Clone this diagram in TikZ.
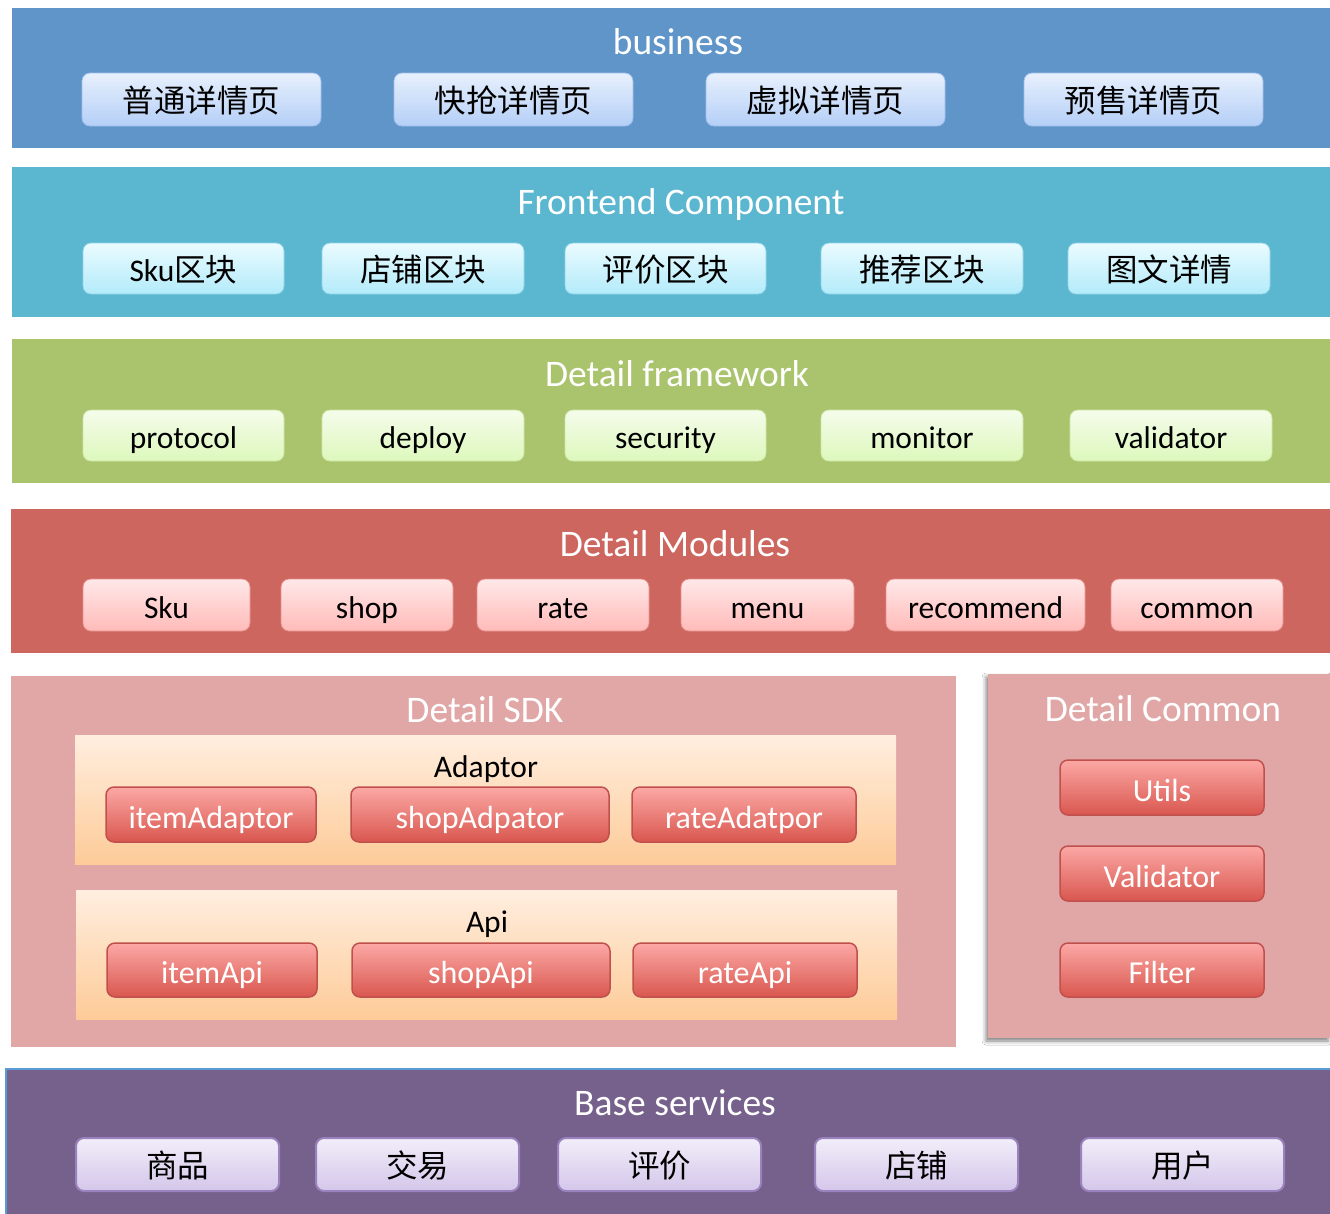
\documentclass[tikz,border=0pt]{standalone}
\usepackage{fontspec}
\setmainfont{Carlito}
\newfontfamily\cjk{Noto Sans CJK SC}
\usetikzlibrary{shadows.blur}
\definecolor{bizbg}{HTML}{5F95C8}
\definecolor{febg}{HTML}{5BB7D0}
\definecolor{fwbg}{HTML}{AAC36D}
\definecolor{modbg}{HTML}{CC665F}
\definecolor{sdkbg}{HTML}{E1A7A6}
\definecolor{basebg}{HTML}{76608C}
\definecolor{baseline}{HTML}{5B9BD5}
\definecolor{HTMLE8F0FD}{HTML}{E8F0FD}
\definecolor{HTMLB4CFF7}{HTML}{B4CFF7}
\definecolor{HTML9FBDEA}{HTML}{9FBDEA}
\definecolor{HTMLEAFBFF}{HTML}{EAFBFF}
\definecolor{HTMLB3EBFA}{HTML}{B3EBFA}
\definecolor{HTML8FD3E6}{HTML}{8FD3E6}
\definecolor{HTMLF5FCEB}{HTML}{F5FCEB}
\definecolor{HTMLDDF8BC}{HTML}{DDF8BC}
\definecolor{HTMLCDE6A6}{HTML}{CDE6A6}
\definecolor{HTMLFFE8E8}{HTML}{FFE8E8}
\definecolor{HTMLFFBBB9}{HTML}{FFBBB9}
\definecolor{HTMLE6908B}{HTML}{E6908B}
\definecolor{HTMLFCA8A5}{HTML}{FCA8A5}
\definecolor{HTMLD9574F}{HTML}{D9574F}
\definecolor{HTMLC0504D}{HTML}{C0504D}
\definecolor{HTMLF2EEF9}{HTML}{F2EEF9}
\definecolor{HTMLD4C6EA}{HTML}{D4C6EA}
\definecolor{HTML9A82BE}{HTML}{9A82BE}
\definecolor{HTMLFFEEDF}{HTML}{FFEEDF}
\definecolor{HTMLFDCB98}{HTML}{FDCB98}
\newcommand\placebox[7]{%
  \pgfmathsetmacro\pbW{#5-#3}\pgfmathsetmacro\pbH{#6-#4}%
  \pgfmathsetmacro\pbX{(#3+#5)/2}\pgfmathsetmacro\pbY{(#4+#6)/2}%
  \node[#2, minimum width=\pbW pt, minimum height=\pbH pt] (#1) at (\pbX,\pbY) {#7};}
\tikzset{
  layer/.style={rectangle, inner sep=0pt, outer sep=0pt},
  ttl/.style={anchor=base, text=white, font=\fontsize{37.5}{42}\selectfont, inner sep=0pt},
  sub/.style={anchor=base, text=black, font=\fontsize{31.5}{36}\selectfont, inner sep=0pt},
  item/.style={rectangle, rounded corners=8pt, inner sep=0pt, outer sep=0pt,
    text height=31pt, text depth=5pt, font=\fontsize{31.5}{36}\selectfont},
  bizitem/.style={item, top color=HTMLE8F0FD, bottom color=HTMLB4CFF7, draw=HTML9FBDEA, line width=0.8pt},
  feitem/.style={item, top color=HTMLEAFBFF, bottom color=HTMLB3EBFA, draw=HTML8FD3E6, line width=0.8pt},
  fwitem/.style={item, top color=HTMLF5FCEB, bottom color=HTMLDDF8BC, draw=HTMLCDE6A6, line width=0.8pt},
  moditem/.style={item, top color=HTMLFFE8E8, bottom color=HTMLFFBBB9, draw=HTMLE6908B, line width=0.8pt},
  reditem/.style={item, top color=HTMLFCA8A5, bottom color=HTMLD9574F, draw=HTMLC0504D, line width=1.5pt, text=white, text height=32pt, font=\fontsize{32}{36}\selectfont},
  baseitem/.style={item, top color=HTMLF2EEF9, bottom color=HTMLD4C6EA, draw=HTML9A82BE, line width=2pt},
  panel/.style={rectangle, inner sep=0pt, outer sep=0pt, top color=HTMLFFEEDF, bottom color=HTMLFDCB98},
}
\begin{document}
\begin{tikzpicture}[x=1pt, y=-1pt]
\useasboundingbox[fill=white] (0,0) rectangle (1330,1213);

% business
\placebox{biz}{layer, fill=bizbg}{12}{8}{1330}{148}{}
\node[ttl] (bizt) at (678,54) {business};
\placebox{b1}{bizitem}{82}{73}{321}{126}{\cjk 普通详情页}
\placebox{b2}{bizitem}{394}{73}{633}{126}{\cjk 快抢详情页}
\placebox{b3}{bizitem}{706}{73}{945}{126}{\cjk 虚拟详情页}
\placebox{b4}{bizitem}{1024}{73}{1263}{126}{\cjk 预售详情页}

% frontend
\placebox{fe}{layer, fill=febg}{12}{167}{1330}{317}{}
\node[ttl] (fet) at (681,214) {Frontend Component};
\placebox{f1}{feitem}{83}{243}{284}{294}{Sku{\cjk 区块}}
\placebox{f2}{feitem}{322}{243}{524}{294}{\cjk 店铺区块}
\placebox{f3}{feitem}{565}{243}{766}{294}{\cjk 评价区块}
\placebox{f4}{feitem}{821}{243}{1023}{294}{\cjk 推荐区块}
\placebox{f5}{feitem}{1068}{243}{1270}{294}{\cjk 图文详情}

% framework
\placebox{fw}{layer, fill=fwbg}{12}{339}{1330}{483}{}
\node[ttl] (fwt) at (677,386) {Detail framework};
\placebox{w1}{fwitem}{83}{410}{284}{461}{protocol}
\placebox{w2}{fwitem}{322}{410}{524}{461}{deploy}
\placebox{w3}{fwitem}{565}{410}{766}{461}{security}
\placebox{w4}{fwitem}{821}{410}{1023}{461}{monitor}
\placebox{w5}{fwitem}{1070}{410}{1272}{461}{validator}

% modules
\placebox{mod}{layer, fill=modbg}{11}{509}{1330}{653}{}
\node[ttl] (modt) at (675,556) {Detail Modules};
\placebox{m1}{moditem}{83}{579}{250}{631}{Sku}
\placebox{m2}{moditem}{281}{579}{453}{631}{shop}
\placebox{m3}{moditem}{477}{579}{649}{631}{rate}
\placebox{m4}{moditem}{681}{579}{854}{631}{menu}
\placebox{m5}{moditem}{886}{579}{1085}{631}{recommend}
\placebox{m6}{moditem}{1111}{579}{1283}{631}{common}

% SDK
\placebox{sdk}{layer, fill=sdkbg}{11}{676}{956}{1047}{}
\node[ttl] (sdkt) at (485,722) {Detail SDK};
\placebox{adp}{panel}{75}{735}{896}{864}{}
\node[sub] (adpt) at (486,777) {Adaptor};
\placebox{a1}{reditem}{106}{787}{316}{842}{itemAdaptor}
\placebox{a2}{reditem}{351}{787}{609}{842}{shopAdpator}
\placebox{a3}{reditem}{632}{787}{856}{842}{rateAdatpor}
\placebox{api}{panel}{76}{890}{897}{1019}{}
\node[sub] (apit) at (487,932) {Api};
\placebox{p1}{reditem}{107}{943}{317}{997}{itemApi}
\placebox{p2}{reditem}{352}{943}{610}{997}{shopApi}
\placebox{p3}{reditem}{633}{943}{857}{997}{rateApi}

% Common
\placebox{cmn}{layer, fill=sdkbg, blur shadow={shadow xshift=-2pt, shadow yshift=-3pt, shadow blur radius=4pt, shadow opacity=50}}{988}{674}{1330}{1038}{}
\node[ttl] (cmnt) at (1163,721) {Detail Common};
\placebox{c1}{reditem}{1060}{760}{1264}{815}{Utils}
\placebox{c2}{reditem}{1060}{846}{1264}{901}{Validator}
\placebox{c3}{reditem}{1060}{943}{1264}{997}{Filter}

% base
\placebox{base}{layer, fill=basebg, draw=baseline, line width=2pt}{6}{1069}{1332}{1215}{}
\node[ttl] (baset) at (675,1115) {Base services};
\placebox{s1}{baseitem}{76}{1138}{279}{1191}{\cjk 商品}
\placebox{s2}{baseitem}{316}{1138}{519}{1191}{\cjk 交易}
\placebox{s3}{baseitem}{558}{1138}{761}{1191}{\cjk 评价}
\placebox{s4}{baseitem}{815}{1138}{1018}{1191}{\cjk 店铺}
\placebox{s5}{baseitem}{1081}{1138}{1284}{1191}{\cjk 用户}
\end{tikzpicture}
\end{document}
